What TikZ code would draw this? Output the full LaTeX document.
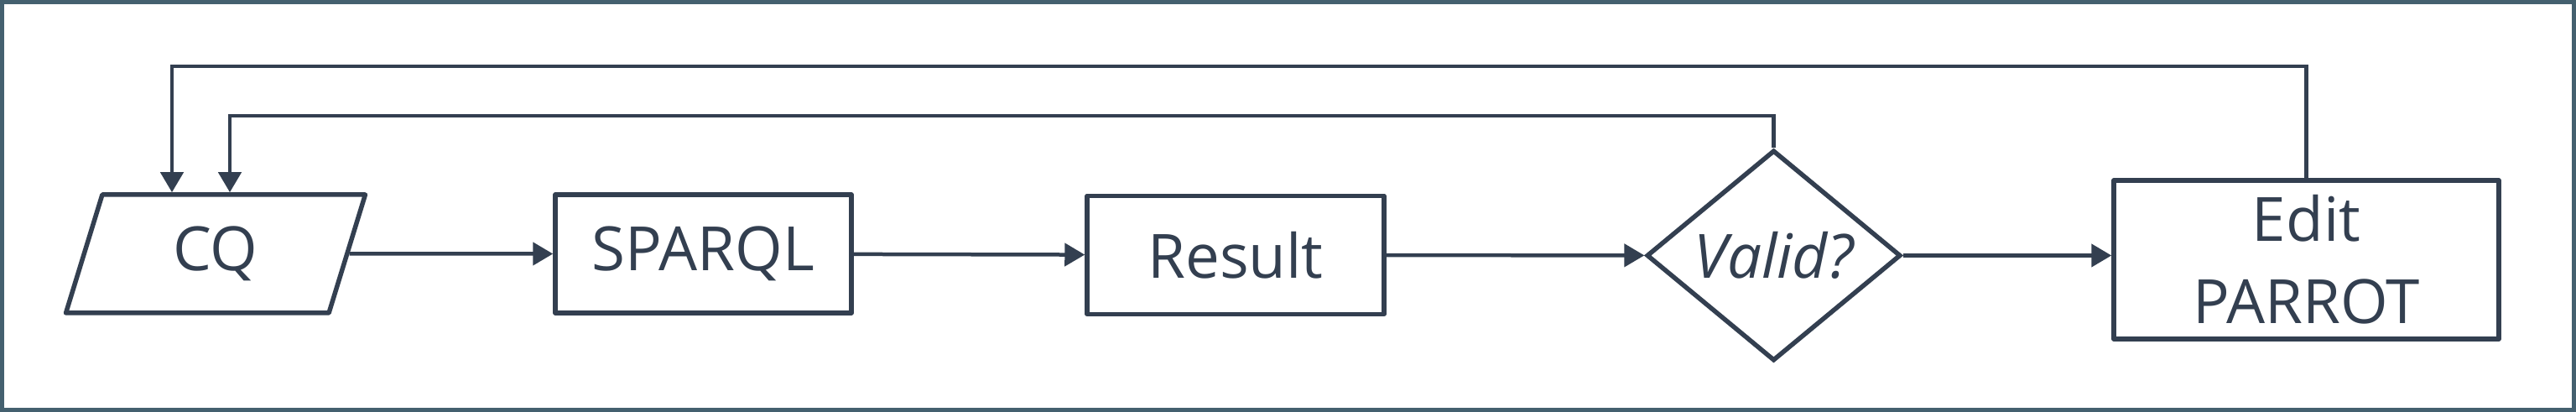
\documentclass[tikz,border=0pt]{standalone}
\usepackage{fontspec}
\setmainfont{Open Sans}
\usetikzlibrary{shapes.geometric,arrows.meta,positioning}
\definecolor{linegray}{HTML}{333F50}
\definecolor{framegray}{HTML}{44606F}

\begin{document}
\begin{tikzpicture}[
    every node/.style={font=\fontsize{20.7}{27.9}\selectfont, text=linegray},
    box/.style={draw=linegray, line width=0.055cm, rectangle, minimum height=1.41cm, inner sep=0pt, line join=round},
    inbox/.style={draw=linegray, line width=0.055cm, trapezium, trapezium left angle=76, trapezium right angle=104, trapezium stretches=true, minimum width=3.57cm, minimum height=1.41cm, inner sep=0pt, line join=round},
    decide/.style={draw=linegray, line width=0.055cm, diamond, minimum width=3.03cm, minimum height=2.51cm, inner sep=0pt},
    flow/.style={draw=linegray, line width=0.045cm, -{Triangle[width=0.27cm,length=0.24cm]}}
  ]
  \useasboundingbox (0,0) rectangle (30.71,4.91);
  \draw[framegray, line width=0.05cm] (0.025,0.025) rectangle (30.685,4.885);

  % main flow
  \node[inbox] (cq) at (2.57,1.885) {CQ};
  \node[box, minimum width=3.53cm] (sparql) at (8.385,1.885) {SPARQL};
  \node[box, minimum width=3.54cm] (result) at (14.73,1.87) {Result};
  \node[decide] (valid) at (21.145,1.865) {\itshape Valid?};
  \node[box, minimum width=4.59cm, minimum height=1.89cm, align=center] (edit) at (27.495,1.815) {Edit\\PARROT};

  \draw[flow] (cq) -- (sparql);
  \draw[flow] (sparql) -- (result);
  \draw[flow] (result) -- (valid);
  \draw[flow] (valid) -- (valid -| edit.west);

  % feedback loops
  \draw[flow] (valid.north) -- ++(0,0.38) -| ([xshift=0.17cm]cq.north);
  \draw[flow] (edit.north) -- ++(0,1.33) -| ([xshift=-0.52cm]cq.north);
\end{tikzpicture}
\end{document}
